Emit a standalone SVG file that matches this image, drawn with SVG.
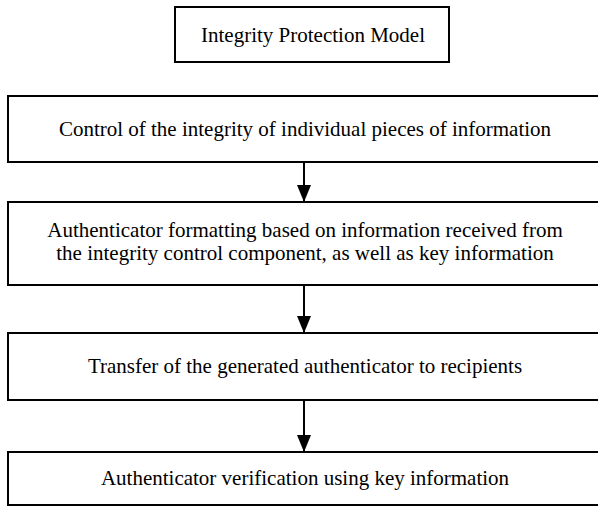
<svg xmlns="http://www.w3.org/2000/svg" width="598" height="509" viewBox="0 0 598 509">
<defs>
<style>
.box{fill:#fff;stroke:#000;stroke-width:2}
.t{font-family:'Liberation Serif','Times New Roman',serif;font-size:21px;fill:#000;text-anchor:middle}
.c{stroke:#000;stroke-width:2;fill:none}
</style>
<marker id="ah" markerWidth="17" markerHeight="14" refX="17" refY="7" orient="auto" markerUnits="userSpaceOnUse" viewBox="0 0 17 14">
<path d="M0,0 L17,7 L0,14 Z" fill="#000"/>
</marker>
</defs>
<rect width="598" height="509" fill="#fff"/>
<g id="title">
<rect class="box" x="175" y="7" width="274" height="55"/>
<text class="t" x="313" y="42">Integrity Protection Model</text>
</g>
<g id="n1">
<rect class="box" x="8" y="96" width="594" height="66"/>
<text class="t" x="305" y="136">Control of the integrity of individual pieces of information</text>
</g>
<g id="n2">
<rect class="box" x="8" y="202" width="594" height="83"/>
<text class="t" x="305" y="237">Authenticator formatting based on information received from</text>
<text class="t" x="305" y="260">the integrity control component, as well as key information</text>
</g>
<g id="n3">
<rect class="box" x="8" y="333" width="594" height="67"/>
<text class="t" x="305" y="373">Transfer of the generated authenticator to recipients</text>
</g>
<g id="n4">
<rect class="box" x="8" y="452" width="594" height="53"/>
<text class="t" x="305" y="485">Authenticator verification using key information</text>
</g>
<g id="connectors">
<line class="c" x1="304" y1="163" x2="304" y2="202" marker-end="url(#ah)"/>
<line class="c" x1="304" y1="286" x2="304" y2="333" marker-end="url(#ah)"/>
<line class="c" x1="304" y1="401" x2="304" y2="452" marker-end="url(#ah)"/>
</g>
</svg>
